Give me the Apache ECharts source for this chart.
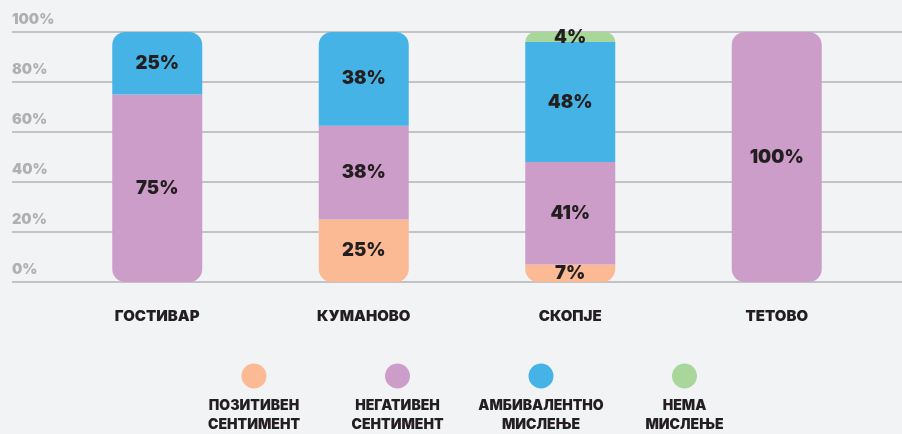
<!DOCTYPE html>
<html>
<head>
<meta charset="utf-8">
<script src="https://cdn.jsdelivr.net/npm/echarts@6/dist/echarts.min.js"></script>
<style>
    html, body { margin: 0; padding: 0; background: #f2f3f5; }
    #chart { width: 902px; height: 434px; }
</style>
</head>
<body>
<div id="chart"></div>
<script>
    // податоци
    var cities = ['ГОСТИВАР', 'КУМАНОВО', 'СКОПЈЕ', 'ТЕТОВО'];
    var seriesNames = ['ПОЗИТИВЕН\nСЕНТИМЕНТ', 'НЕГАТИВЕН\nСЕНТИМЕНТ', 'АМБИВАЛЕНТНО\nМИСЛЕЊЕ', 'НЕМА\nМИСЛЕЊЕ'];
    var positive = [0, 25, 7, 0];
    var negative = [75, 37.5, 41, 100];
    var ambivalent = [25, 37.5, 48, 0];
    var noOpinion = [0, 0, 4, 0];

    var colors = ['#fbb994', '#cc9dc9', '#46b3e6', '#a9d69b'];
    var font = 'Inter, "Liberation Sans", sans-serif';
    var values = [positive, negative, ambivalent, noOpinion];
    var R = 13;

    // заоблени агли само на крајните сегменти
    function buildData(s) {
        return values[s].map(function (v, i) {
            var first = -1, last = -1;
            for (var k = 0; k < values.length; k++) {
                if (values[k][i] > 0) {
                    if (first < 0) first = k;
                    last = k;
                }
            }
            var r = [0, 0, 0, 0];
            if (s === last) { r[0] = R; r[1] = R; }
            if (s === first) { r[2] = R; r[3] = R; }
            return { value: v, itemStyle: { borderRadius: r } };
        });
    }

    var series = seriesNames.map(function (name, s) {
        return {
            name: name,
            type: 'bar',
            stack: 'total',
            xAxisIndex: 1,
            yAxisIndex: 1,
            barWidth: 90,
            itemStyle: { color: colors[s] },
            label: {
                show: true,
                position: 'inside',
                color: '#231f20',
                fontFamily: font,
                fontWeight: 900,
                fontSize: 18.5,
                formatter: function (p) {
                    return p.value > 0 ? Math.round(p.value) + '%' : '';
                }
            },
            data: buildData(s)
        };
    });

    // легенда: круг над текстот
    var graphics = [];
    seriesNames.forEach(function (name, s) {
        var cx = 254 + s * 143.5;
        graphics.push({
            type: 'circle',
            shape: { cx: cx, cy: 376, r: 12.5 },
            style: { fill: colors[s] }
        });
        graphics.push({
            type: 'text',
            x: cx,
            y: 396,
            style: {
                text: name,
                align: 'center',
                verticalAlign: 'top',
                fill: '#231f20',
                font: '900 14px ' + font,
                lineHeight: 19
            }
        });
    });

    var myChart = echarts.init(document.getElementById('chart'));
    var option = {
        backgroundColor: '#f2f3f5',
        animation: false,
        grid: [
            { left: 12, right: 0, top: 32, bottom: 152 },
            { left: 54, right: 22, top: 32, bottom: 152 }
        ],
        xAxis: [
            { gridIndex: 0, type: 'value', show: false, min: 0, max: 1 },
            {
                gridIndex: 1,
                type: 'category',
                data: cities,
                axisLine: { show: false },
                axisTick: { show: false },
                axisLabel: {
                    margin: 27,
                    color: '#231f20',
                    fontFamily: font,
                    fontWeight: 900,
                    fontSize: 15
                }
            }
        ],
        yAxis: [
            {
                gridIndex: 0,
                type: 'value',
                min: 0,
                max: 100,
                interval: 20,
                axisLine: { show: false },
                axisTick: { show: false },
                splitLine: { lineStyle: { color: '#c3c3c5', width: 2 } },
                axisLabel: {
                    inside: true,
                    margin: 0,
                    align: 'left',
                    verticalAlign: 'bottom',
                    padding: [0, 0, 5, 0],
                    color: '#b0b0b2',
                    fontFamily: font,
                    fontWeight: 900,
                    fontSize: 14.5,
                    formatter: '{value}%'
                }
            },
            { gridIndex: 1, type: 'value', min: 0, max: 100, show: false }
        ],
        graphic: graphics,
        series: series
    };
    myChart.setOption(option);
</script>
</body>
</html>
